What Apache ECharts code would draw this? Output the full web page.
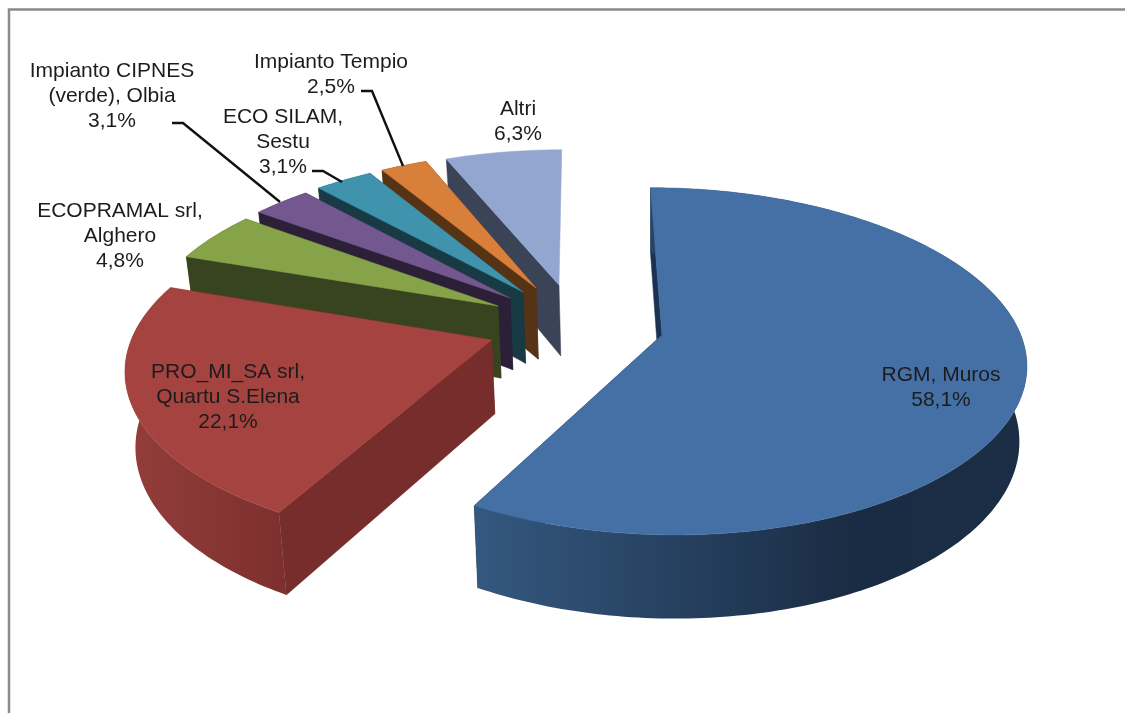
<!DOCTYPE html>
<html>
<head>
<meta charset="utf-8">
<style>html,body{margin:0;padding:0;background:#fff}#c{width:1125px;height:713px}</style>
<script src="https://cdn.jsdelivr.net/npm/echarts@6/dist/echarts.min.js"></script>
</head>
<body>
<div id="c"></div>
<script>
// ---- data ----
const labelLines = [
  ["RGM, Muros"],
  ["PRO_MI_SA srl,", "Quartu S.Elena"],
  ["ECOPRAMAL srl,", "Alghero"],
  ["Impianto CIPNES", "(verde), Olbia"],
  ["ECO SILAM,", "Sestu"],
  ["Impianto Tempio"],
  ["Altri"]
];
const values = [58.1, 22.1, 4.8, 3.1, 3.1, 2.5, 6.3];

// ---- look & layout ----
const topColors  = ["#4570a6", "#a54340", "#87a349", "#72588f", "#3f93ad", "#d8803a", "#92a6cf"];
const cutColors  = ["#1b3350", "#772d2b", "#38431f", "#2b2037", "#183a45", "#573316", "#3b4457"];
const wallStops  = [
  [[476, "#34587f"], [850, "#1a2c44"], [1030, "#1b2e46"]],
  [[125, "#933e3b"], [290, "#7c2f2e"]],
  [[180, "#38431f"], [500, "#38431f"]],
  [[250, "#2b2037"], [510, "#2b2037"]],
  [[310, "#183a45"], [525, "#183a45"]],
  [[380, "#573316"], [540, "#573316"]],
  [[440, "#3b4457"], [560, "#3b4457"]]
];
const apexes = [[662, 335], [491.6, 340], [498, 306], [510, 298], [523, 292], [536, 288], [559, 285]];
const labelCenters = [[941, 388], [228, 397.5], [120, 236], [112, 96], [283, 142], [331, 74.5], [518, 122]];
const leaders = [null, null, null,
  [[172, 123], [183, 123], [280, 202]],
  [[312, 171], [323, 171], [342, 182]],
  [[361, 91], [372, 91], [403, 166]],
  null];
const paintOrder = [6, 5, 4, 3, 2, 1, 0];
const CX = 579, CY = 323, RX = 355, RY = 166, DEPTH = 73;
const FONT = '21px "Liberation Sans", Arial, sans-serif';
const LINE_H = 25;

// ---- projection of the tilted disc ----
const sx = v => 1 / (1 + 0.15 * v + 0.01 * v * v);
const sy = v => 1 / (1 + 0.15 * v);
const project = (u, v) => [CX + RX * u * sx(v), CY - RY * v * sy(v)];
function discOf(a) {
  const k = (CY - a[1]) / RY;
  const v = k / (1 - 0.15 * k);
  return [(a[0] - CX) / (RX * sx(v)), v];
}
const lower = (p, v) => [650 + (p[0] - 650) * 0.98, p[1] + DEPTH / (1 + 0.1186 * v)];

const total = values.reduce((a, b) => a + b, 0);
const starts = [];
values.reduce((acc, v, i) => { starts[i] = acc; return acc + v; }, 0);

function renderSlice(params, api) {
  const i = params.dataIndex;
  const value = api.value(1);
  const a0 = starts[i] / total * 2 * Math.PI;
  const a1 = a0 + value / total * 2 * Math.PI;
  const o = discOf(apexes[i]);
  const rim = [], rimV = [];
  const n = Math.max(6, Math.round((a1 - a0) * 180 / Math.PI));
  for (let k = 0; k <= n; k++) {
    const t = a0 + (a1 - a0) * k / n;
    const u = o[0] + Math.sin(t), v = o[1] + Math.cos(t);
    rim.push(project(u, v)); rimV.push(v);
  }
  const apex = apexes[i];
  const apexLow = lower(apex, o[1]);
  const rimLow = rim.map((p, k) => lower(p, rimV[k]));
  const order = paintOrder.indexOf(i) * 10;
  const face = (a, b, c, d, fill, z) => ({
    type: "polygon", z2: z,
    shape: { points: [a, b, c, d] },
    style: { fill: fill, stroke: fill, lineWidth: 0.5 }
  });
  const stops = wallStops[i];
  const x0 = stops[0][0], x1 = stops[stops.length - 1][0];
  const grad = new echarts.graphic.LinearGradient(x0, 0, x1, 0,
    stops.map(s => ({ offset: (s[0] - x0) / (x1 - x0), color: s[1] })), true);
  const children = [
    face(apex, rim[0], rimLow[0], apexLow, cutColors[i], order + 1),
    { type: "polygon", z2: order + 4,
      shape: { points: [apex].concat(rim) },
      style: { fill: topColors[i], stroke: topColors[i], lineWidth: 0.5 } }
  ];
  // the last slice closes the ring at the back: its end face and rim wall face away
  if (i < values.length - 1) {
    children.push(face(apex, rim[n], rimLow[n], apexLow, cutColors[i], order + 2));
    children.push({ type: "polygon", z2: order + 3,
      shape: { points: rim.concat(rimLow.slice().reverse()) },
      style: { fill: grad } });
  }
  if (leaders[i]) {
    children.push({ type: "polyline", z2: 200,
      shape: { points: leaders[i] },
      style: { stroke: "#111", lineWidth: 2.4, fill: null } });
  }
  const lines = labelLines[i].concat([String(value).replace(".", ",") + "%"]);
  const c = labelCenters[i];
  lines.forEach((t, k) => {
    children.push({ type: "text", z2: 210,
      style: {
        text: t, x: c[0], y: c[1] + (k - (lines.length - 1) / 2) * LINE_H,
        align: "center", verticalAlign: "middle", font: FONT, fill: "#1c1c1c"
      } });
  });
  return { type: "group", children: children };
}

const chart = echarts.init(document.getElementById("c"), null, { renderer: "canvas" });
chart.setOption({
  animation: false,
  backgroundColor: "#fff",
  graphic: [{
    type: "polyline", z: 0, silent: true,
    shape: { points: [[9, 713], [9, 9.5], [1125, 9.5]] },
    style: { stroke: "#8a8a8a", lineWidth: 2.5, fill: null }
  }],
  series: [{
    type: "custom",
    coordinateSystem: "none",
    silent: true,
    renderItem: renderSlice,
    data: values.map((v, i) => ({ name: labelLines[i].join(" "), value: [i, v] }))
  }]
});
</script>
</body>
</html>
